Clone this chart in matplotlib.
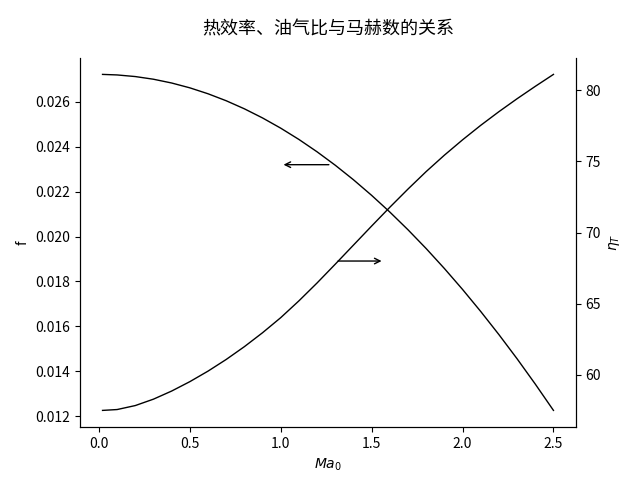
import numpy as np
from matplotlib import pyplot as plt

plt.rcParams['font.family'] = ['Noto Sans CJK SC', 'DejaVu Sans']
plt.rcParams['axes.unicode_minus'] = False

ma = [0.02, 0.1, 0.2, 0.3, 0.4, 0.5, 0.6, 0.7, 0.8, 0.9, 1.0, 1.1, 1.2,
      1.3, 1.4, 1.5, 1.6, 1.7, 1.8, 1.9, 2.0, 2.1, 2.2, 2.3, 2.4, 2.5]
f_vals = [0.02722, 0.027196, 0.027124, 0.027005, 0.026837, 0.026622,
          0.026358, 0.026047, 0.025688, 0.025281, 0.024826, 0.024324,
          0.023773, 0.023175, 0.022529, 0.021834, 0.021092, 0.020302,
          0.019465, 0.018579, 0.017646, 0.016664, 0.015635, 0.014558,
          0.013432, 0.012260]
eta_vals = [57.50, 57.56, 57.84, 58.29, 58.86, 59.52, 60.26, 61.08, 61.98,
            62.96, 64.02, 65.20, 66.46, 67.78, 69.12, 70.46, 71.78, 73.06,
            74.29, 75.44, 76.52, 77.54, 78.50, 79.41, 80.28, 81.12]


def main():
    fig, ax1 = plt.subplots(figsize=(6.4, 4.8), dpi=100)
    ax2 = ax1.twinx()

    ax1.plot(ma, f_vals, color='k', linewidth=1)
    ax2.plot(ma, eta_vals, color='k', linewidth=1)

    # arrows pointing to the axis each curve belongs to
    ax1.annotate('', xy=(1.0, 0.0232), xytext=(1.28, 0.0232),
                 arrowprops=dict(arrowstyle='->', color='k'))
    ax2.annotate('', xy=(1.57, 68.0), xytext=(1.30, 68.0),
                 arrowprops=dict(arrowstyle='->', color='k'))

    ax1.spines['top'].set_visible(False)
    ax2.spines['top'].set_visible(False)

    ax1.set_xlabel('$Ma_0$')
    ax1.set_ylabel('f')
    ax2.set_ylabel(r'$\eta_T$')
    ax1.set_title('热效率、油气比与马赫数的关系', fontsize=13, pad=17)

    fig.savefig('out.png')


if __name__ == '__main__':
    main()
